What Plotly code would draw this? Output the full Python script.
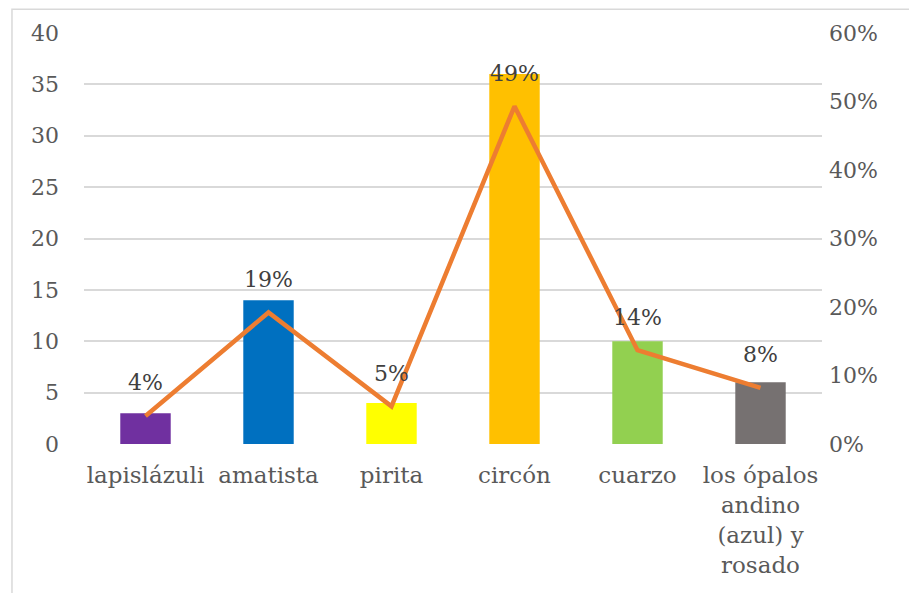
import plotly.graph_objects as go

FONT = "DejaVu Serif, Liberation Serif, serif"
TICK = "#595959"
LABEL = "#404040"
GRID = "#d9d9d9"

minerals = ["lapislázuli", "amatista", "pirita", "circón", "cuarzo",
            "los ópalos<br>andino<br>(azul) y<br>rosado"]
counts = [3, 14, 4, 36, 10, 6]
shares = [0.041, 0.192, 0.055, 0.493, 0.137, 0.082]
share_labels = ["4%", "19%", "5%", "49%", "14%", "8%"]
bar_colors = ["#7030A0", "#0070C0", "#FFFF00", "#FFC000", "#92D050", "#767171"]

fig = go.Figure()
fig.add_trace(go.Bar(
    x=minerals, y=counts, marker_color=bar_colors, marker_line_width=0,
    width=0.41, hoverinfo="skip", showlegend=False,
))
fig.add_trace(go.Scatter(
    x=minerals, y=shares, yaxis="y2", mode="lines",
    line=dict(color="#ED7D31", width=4.5), showlegend=False,
))

# percentage labels sit above the line points
for m, s, t in zip(minerals, shares, share_labels):
    fig.add_annotation(x=m, y=s, yref="y2", text=t, showarrow=False,
                       yshift=33, font=dict(family=FONT, size=22, color=LABEL))

# light frame around the chart (page body adds an 8px offset)
fig.add_shape(type="rect", xref="paper", yref="paper",
              x0=-0.0976, x1=1.2, y0=-0.45, y1=1.058,
              line=dict(color="#d9d9d9", width=1.5), layer="below")

fig.update_layout(
    width=917, height=593,
    margin=dict(l=76, r=103, t=25, b=157, autoexpand=False),
    plot_bgcolor="white", paper_bgcolor="white",
    font=dict(family=FONT, size=22, color=TICK),
    bargap=0.59,
    xaxis=dict(showgrid=False, showline=False, ticks="", ticklabelstandoff=15,
               automargin=False, tickfont=dict(family=FONT, size=23, color=TICK)),
    yaxis=dict(range=[0, 40], dtick=5, showgrid=True, gridcolor=GRID, gridwidth=1.5,
               zeroline=False, ticks="", ticklabelstandoff=24, automargin=False,
               tickfont=dict(family=FONT, size=22, color=TICK)),
    yaxis2=dict(range=[0, 0.6], dtick=0.1, tickformat=".0%", overlaying="y", side="right",
                showgrid=False, zeroline=False, ticks="", ticklabelstandoff=6,
                automargin=False, tickfont=dict(family=FONT, size=22, color=TICK)),
)

fig.write_html("out.html")
